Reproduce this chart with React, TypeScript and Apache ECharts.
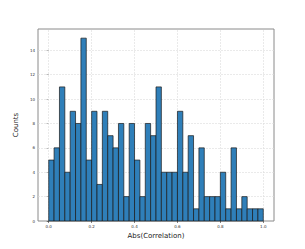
import React, { useEffect, useRef } from "react";
import * as echarts from "echarts";

const binWidth = 0.025;
const counts = [5, 6, 11, 4, 9, 8, 15, 5, 9, 3, 9, 7, 6, 8, 2, 8, 5, 2, 8, 7, 11, 4, 4, 4, 9, 4, 7, 1, 6, 2, 2, 2, 4, 1, 6, 1, 2, 1, 1, 1];
const xTicks = [0, 0.2, 0.4, 0.6, 0.8, 1.0];
const yTicks = [0, 2, 4, 6, 8, 10, 12, 14];

export default function App() {
  const ref = useRef<HTMLDivElement>(null);
  useEffect(() => {
    const chart = echarts.init(ref.current!, null, { renderer: "svg" });
    const data = counts.map((c, i) => [i * binWidth, (i + 1) * binWidth, c]);
    const gridStyle = { color: "#dcdcdc", width: 0.6, type: [2, 1] as any };
    chart.setOption({
      animation: false,
      grid: { left: 38, right: 31, top: 29, bottom: 28, show: true, borderColor: "#8a8a8a", borderWidth: 1, backgroundColor: "transparent" },
      xAxis: {
        type: "value", min: -0.05, max: 1.05,
        name: "Abs(Correlation)", nameLocation: "middle", nameGap: 11,
        nameTextStyle: { fontSize: 7, color: "#222", fontFamily: "DejaVu Sans" },
        axisLine: { show: false },
        axisTick: { show: true, length: 2, customValues: xTicks, lineStyle: { color: "#333", width: 0.6 } },
        axisLabel: { customValues: xTicks, fontSize: 4, color: "#333", margin: 3, fontFamily: "DejaVu Sans", formatter: (v: number) => v.toFixed(1) },
        splitLine: { show: false },
      },
      yAxis: {
        type: "value", min: 0, max: 15.75,
        name: "Counts", nameLocation: "middle", nameGap: 12,
        nameTextStyle: { fontSize: 7, color: "#222", fontFamily: "DejaVu Sans" },
        axisLine: { show: false },
        axisTick: { show: true, length: 2, customValues: yTicks, lineStyle: { color: "#333", width: 0.6 } },
        axisLabel: { customValues: yTicks, fontSize: 4, color: "#333", margin: 3, fontFamily: "DejaVu Sans" },
        splitLine: { show: false },
      },
      series: [
        {
          type: "line", data: [], z: 1, silent: true,
          markLine: {
            symbol: "none", silent: true, label: { show: false },
            lineStyle: gridStyle,
            data: [...xTicks.map((x) => ({ xAxis: x })), ...yTicks.slice(1).map((y) => ({ yAxis: y }))],
          },
        },
        {
          type: "custom", z: 5,
          data,
          encode: { x: [0, 1], y: 2 },
          renderItem: (params: any, api: any) => {
            const p0 = api.coord([api.value(0), api.value(2)]);
            const p1 = api.coord([api.value(1), 0]);
            return {
              type: "rect",
              shape: { x: p0[0], y: p0[1], width: p1[0] - p0[0], height: p1[1] - p0[1] },
              style: { fill: "#2f7fb9", stroke: "#1a1a1a", lineWidth: 0.7 },
            };
          },
        },
      ],
    });
    return () => chart.dispose();
  }, []);
  return <div ref={ref} style={{ position: "fixed", left: 0, top: 0, width: 305, height: 249, background: "#fff" }} />;
}
